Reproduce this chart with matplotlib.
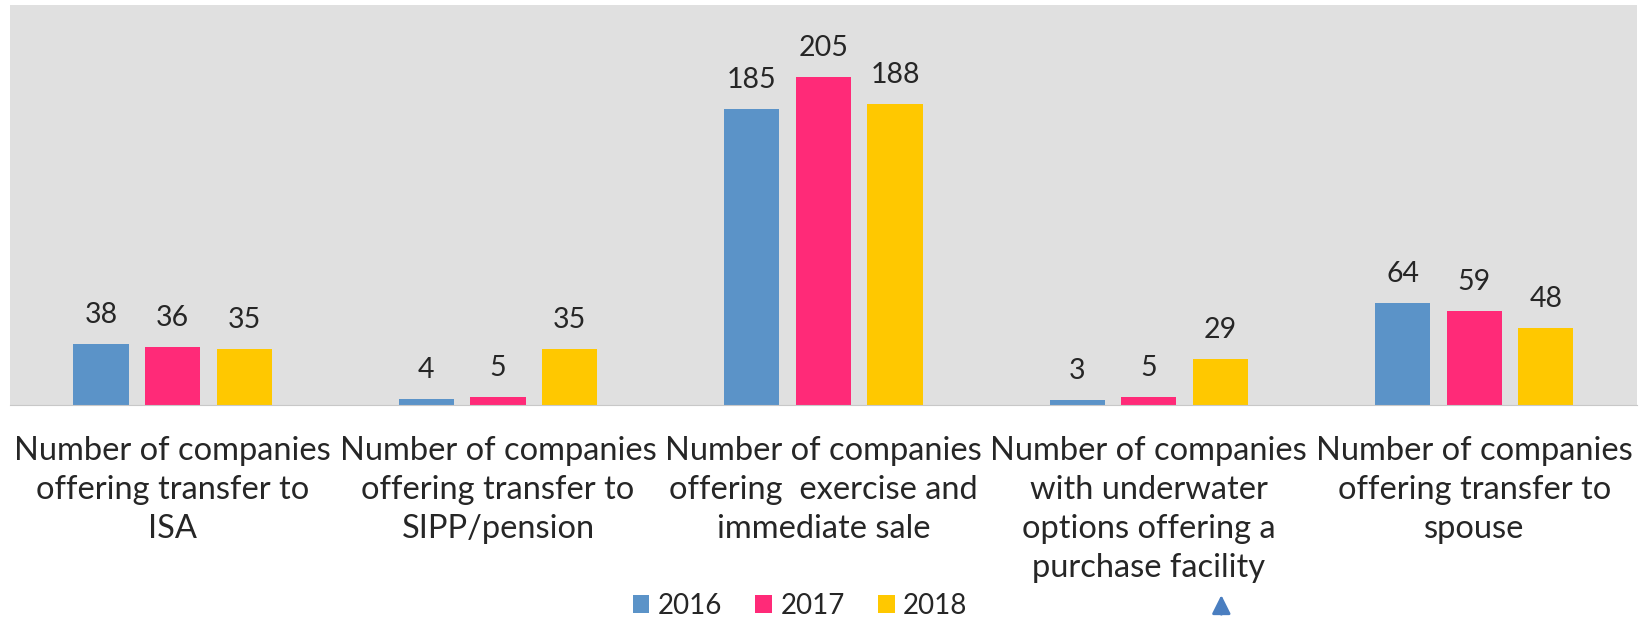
import matplotlib
matplotlib.use("Agg")
import matplotlib.pyplot as plt
import numpy as np

categories = [
    "Number of companies\noffering transfer to\nISA",
    "Number of companies\noffering transfer to\nSIPP/pension",
    "Number of companies\noffering  exercise and\nimmediate sale",
    "Number of companies\nwith underwater\noptions offering a\npurchase facility",
    "Number of companies\noffering transfer to\nspouse",
]
series_names = ["2016", "2017", "2018"]
v2016 = [38, 4, 185, 3, 64]
v2017 = [36, 5, 205, 5, 59]
v2018 = [35, 35, 188, 29, 48]
colors = ["#5B93C8", "#FF2A78", "#FFC800"]

plt.rcParams['font.family'] = ['Lato', 'DejaVu Sans']

fig = plt.figure(figsize=(16.46, 6.17), dpi=100)
ax = fig.add_axes([0.006, 0.3436, 0.9885, 0.6484])
ax.set_facecolor("#E0E0E0")

x = np.arange(len(categories))
width = 0.17
offsets = [-0.22, 0.0, 0.22]
for vals, off, c, name in zip([v2016, v2017, v2018], offsets, colors, series_names):
    bars = ax.bar(x + off, vals, width, color=c, label=name, zorder=2)
    for b, v in zip(bars, vals):
        ax.text(b.get_x() + b.get_width() / 2, v + 10, str(v), ha="center",
                va="bottom", fontsize=20.5, color="#262626")

ax.set_xlim(-0.5, len(categories) - 0.5)
ax.set_ylim(0, 250)
ax.set_yticks([])
ax.set_xticks(x)
ax.set_xticklabels(categories, fontsize=23.5, color="#262626", linespacing=1.38)
ax.tick_params(axis="x", length=0, pad=22)
for s in ["top", "left", "right"]:
    ax.spines[s].set_visible(False)
ax.spines["bottom"].set_color("#C8C8C8")

leg = fig.legend(loc="center", bbox_to_anchor=(0.486, 0.018), ncol=3, frameon=False,
                 fontsize=20, handlelength=0.6, handleheight=0.6, handletextpad=0.3,
                 columnspacing=1.2, labelcolor="#262626")

# small arrow marker at the bottom
ax.annotate("", xy=(0.742, 0.04), xytext=(0.742, 0.0), xycoords="figure fraction",
            arrowprops=dict(arrowstyle="-|>", color="#4A7EC0", lw=2, mutation_scale=28))

fig.savefig("out.png", dpi=100, facecolor="white")
